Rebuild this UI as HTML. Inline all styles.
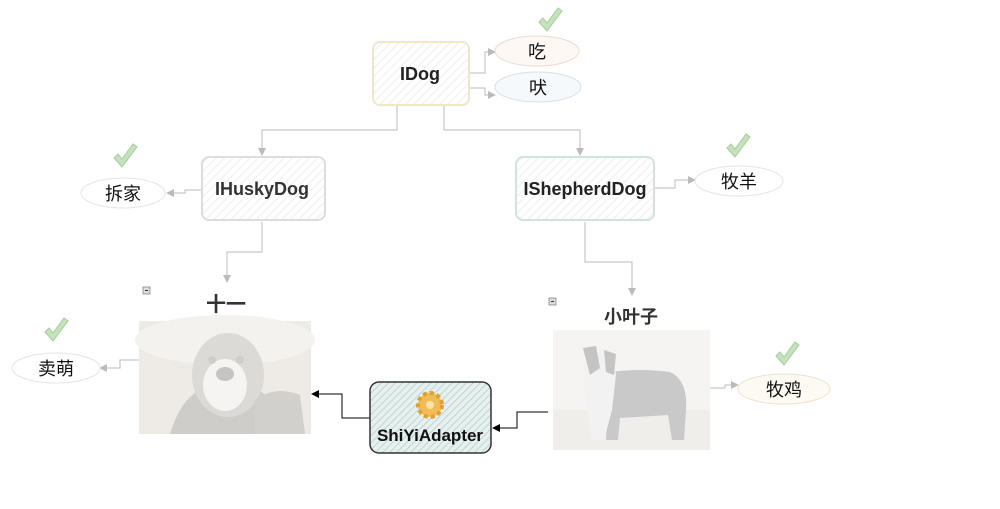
<!DOCTYPE html>
<html><head><meta charset="utf-8"><style>
html,body{margin:0;padding:0;background:#fff;width:1000px;height:509px;overflow:hidden}
text{font-family:"Liberation Sans","Noto Sans CJK SC",sans-serif}
</style></head><body>
<svg width="1000" height="509" viewBox="0 0 1000 509" xmlns="http://www.w3.org/2000/svg">
<defs>
<pattern id="hatch" width="6" height="6" patternUnits="userSpaceOnUse" patternTransform="rotate(45)"><rect width="6" height="6" fill="#fff"/><line x1="0" y1="0" x2="0" y2="6" stroke="#eee" stroke-width="2"/></pattern>
<pattern id="hatch2" width="5" height="5" patternUnits="userSpaceOnUse" patternTransform="rotate(45)"><rect width="5" height="5" fill="#e6f1ef"/><line x1="0" y1="0" x2="0" y2="5" stroke="#b8c9c6" stroke-width="1.5"/></pattern>
<marker id="ag" markerWidth="8" markerHeight="8" refX="7" refY="4" orient="auto" markerUnits="userSpaceOnUse"><path d="M0,0 L8,4 L0,8z" fill="#bbb"/></marker>
<marker id="ab" markerWidth="8" markerHeight="8" refX="7" refY="4" orient="auto" markerUnits="userSpaceOnUse"><path d="M0,0 L8,4 L0,8z" fill="#000"/></marker>
<g id="chk"><path d="M-11,2 L-3,11 L12,-9 L8,-12 L-3,3 L-7,-2z" fill="#c4e2bc" stroke="#a6cc9e" stroke-width="1"/></g>
</defs>
<g fill="none" stroke="#bbb" stroke-width="1">
<path d="M397,105 V130 H262 V155" marker-end="url(#ag)"/>
<path d="M444,105 V130 H580 V155" marker-end="url(#ag)"/>
<path d="M469,73 H485 V52 H495" marker-end="url(#ag)"/>
<path d="M469,88 H485 V95 H495" marker-end="url(#ag)"/>
<path d="M202,190 H185 V193 H167" marker-end="url(#ag)"/>
<path d="M654,188 H675 V180 H695" marker-end="url(#ag)"/>
<path d="M262,222 V252 H227 V282" marker-end="url(#ag)"/>
<path d="M585,222 V262 H632 V295" marker-end="url(#ag)"/>
<path d="M139,360 H120 V368 H100" marker-end="url(#ag)"/>
<path d="M710,388 H725 V385 H738" marker-end="url(#ag)"/>
</g>
<g fill="none" stroke="#000" stroke-width="1">
<path d="M548,412 H517 V428 H493" marker-end="url(#ab)"/>
<path d="M370,418 H342 V394 H312" marker-end="url(#ab)"/>
</g>
<rect x="373" y="42" width="96" height="63" rx="7" fill="url(#hatch)" stroke="#f0e6c8" stroke-width="2"/>
<text x="420" y="80" text-anchor="middle" font-size="18" font-weight="bold" fill="#222">IDog</text>
<rect x="202" y="157" width="123" height="63" rx="7" fill="url(#hatch)" stroke="#ddd" stroke-width="2"/>
<text x="262" y="195" text-anchor="middle" font-size="18" font-weight="bold" fill="#333">IHuskyDog</text>
<rect x="516" y="157" width="138" height="63" rx="7" fill="url(#hatch)" stroke="#d4e2dc" stroke-width="2"/>
<text x="585" y="195" text-anchor="middle" font-size="18" font-weight="bold" fill="#222">IShepherdDog</text>
<g font-size="18" fill="#111" text-anchor="middle">
<ellipse cx="537" cy="51" rx="42" ry="15" fill="#fdf8f4" stroke="#e8dcd2"/><text x="537" y="58">吃</text>
<ellipse cx="538" cy="87" rx="43" ry="15" fill="#f6f9fc" stroke="#d8e0e6"/><text x="538" y="94">吠</text>
<ellipse cx="123" cy="193" rx="42" ry="15" fill="#fff" stroke="#e4e4e4"/><text x="123" y="200">拆家</text>
<ellipse cx="739" cy="181" rx="44" ry="15" fill="#fff" stroke="#e4e4e4"/><text x="739" y="188">牧羊</text>
<ellipse cx="56" cy="368" rx="44" ry="15" fill="#fff" stroke="#e4e4e4"/><text x="56" y="375">卖萌</text>
<ellipse cx="784" cy="389" rx="46" ry="15" fill="#fdfaf4" stroke="#ebe2d0"/><text x="784" y="396">牧鸡</text>
</g>
<use href="#chk" x="550" y="20"/><use href="#chk" x="125" y="156"/><use href="#chk" x="738" y="146"/><use href="#chk" x="56" y="330"/><use href="#chk" x="787" y="354"/>
<rect x="143" y="287" width="7" height="7" fill="#ddd" stroke="#888" stroke-width="0.8"/><line x1="145" y1="290.5" x2="148" y2="290.5" stroke="#333"/>
<rect x="549" y="298" width="7" height="7" fill="#ddd" stroke="#888" stroke-width="0.8"/><line x1="551" y1="301.5" x2="554" y2="301.5" stroke="#333"/>
<text x="226" y="311" text-anchor="middle" font-size="20" font-weight="bold" fill="#333">十一</text>
<text x="631" y="323" text-anchor="middle" font-size="18" font-weight="bold" fill="#333">小叶子</text>
<!-- husky photo -->
<rect x="139" y="321" width="172" height="113" fill="#eeebe7"/>
<ellipse cx="225" cy="340" rx="90" ry="25" fill="#f4f2ef"/>
<path d="M170,434 Q180,400 200,390 L260,390 Q280,410 285,434z" fill="#cfcdca"/>
<ellipse cx="228" cy="375" rx="36" ry="42" fill="#dcdad7"/>
<ellipse cx="225" cy="385" rx="22" ry="26" fill="#f5f4f2"/>
<ellipse cx="225" cy="374" rx="9" ry="7" fill="#c6c4c1"/>
<ellipse cx="212" cy="360" rx="4" ry="4" fill="#cfcdcb"/><ellipse cx="240" cy="360" rx="4" ry="4" fill="#cfcdcb"/>
<path d="M255,400 Q275,385 300,395 L305,434 L255,434z" fill="#d2d0cd"/>
<!-- shepherd photo -->
<rect x="553" y="330" width="157" height="120" fill="#f5f4f3"/>
<rect x="553" y="410" width="157" height="40" fill="#f0eeea"/>
<path d="M610,372 Q640,368 670,372 Q688,380 686,410 L684,440 L672,440 L668,415 L620,418 L618,440 L606,440z" fill="#c9c9c9"/>
<path d="M586,350 L598,346 L612,352 L616,375 L612,410 L604,440 L592,440 L586,405 L583,375z" fill="#f2f2f2"/>
<path d="M583,348 L596,346 L600,368 L590,375z" fill="#c4c4c4"/>
<path d="M604,350 L616,354 L614,375 L606,372z" fill="#c4c4c4"/>
<!-- adapter -->
<rect x="370" y="382" width="121" height="71" rx="9" fill="url(#hatch2)" stroke="#333" stroke-width="1.5"/>
<circle cx="430" cy="405" r="12" fill="#f1bc55" stroke="#e0a030" stroke-width="4" stroke-dasharray="4 3"/>
<circle cx="430" cy="405" r="4" fill="#fbe3a8"/>
<text x="430" y="441" text-anchor="middle" font-size="17" font-weight="bold" fill="#111">ShiYiAdapter</text>
</svg>
</body></html>
